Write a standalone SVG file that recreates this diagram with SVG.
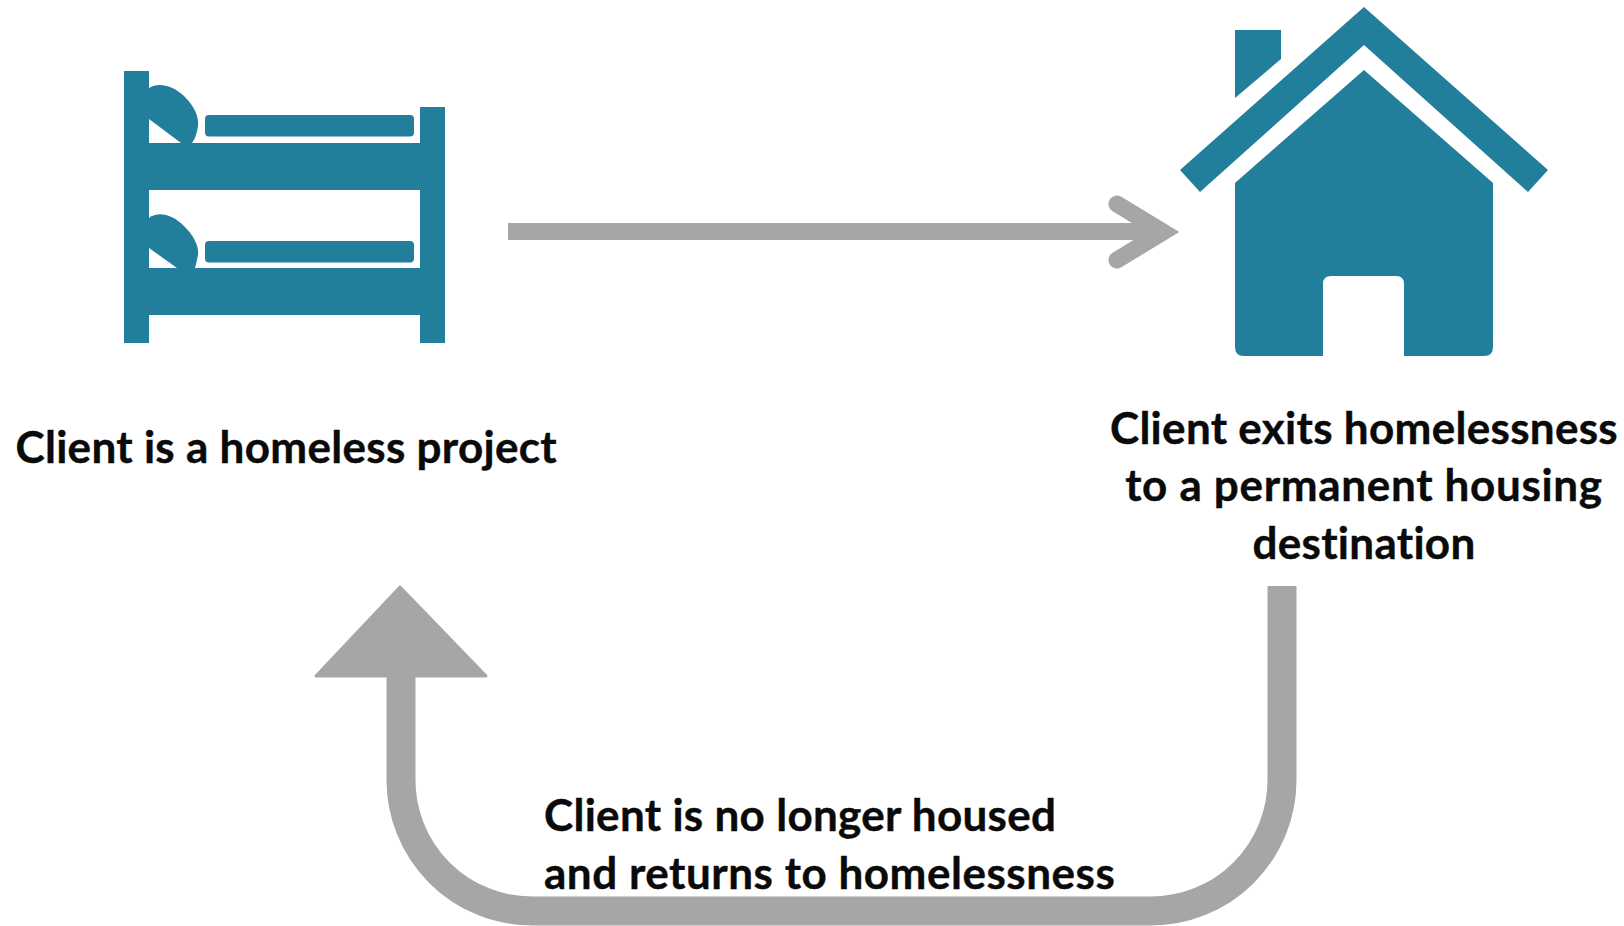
<svg xmlns="http://www.w3.org/2000/svg" width="1624" height="926" viewBox="0 0 1624 926">
<style>
.icon{fill:#227f9b}
.cut{fill:#fff}
.lbl{font-family:"Lato","Liberation Sans",sans-serif;font-weight:700;font-size:44px;letter-spacing:.3px;fill:#0a0a0a;stroke:#0a0a0a;stroke-width:.4px}
.c{text-anchor:middle}
.line{fill:none;stroke:#a6a6a6}
</style>
<rect width="1624" height="926" fill="#fff"/>
<g id="connectors">
<path class="line" d="M508 231.500H1160" stroke-width="17"/>
<path class="line" d="M1117 204L1163 232L1117 260" stroke-width="17" stroke-linecap="round" stroke-linejoin="miter" stroke-miterlimit="6"/>
<path class="line" d="M1282 586V780A131 131 0 0 1 1151 911H532A131 131 0 0 1 401 780V670" stroke-width="29"/>
<path d="M400 587L486 676H316Z" fill="#a6a6a6" stroke="#a6a6a6" stroke-width="3" stroke-linejoin="round"/>
</g>
<g id="bunk-bed">
<path class="icon" d="M124 71H149V143H420V107H445V343H420V315H149V343H124ZM149 190V268H420V190Z"/>
<path class="cut" d="M149 119L181 143H149ZM149 248L177 268H149Z"/>
<path class="icon" d="M149 88C158 82 172 85 184 96C194 106 199 116 198 126C197 133 195 139 192 143H181L149 119Z"/>
<path class="icon" d="M149 218C158 211 172 214 184 226C194 236 199 246 198 255C197 260 196 264 195 268H177L149 248Z"/>
<rect class="icon" x="205" y="115" width="209" height="21.500" rx="4"/>
<rect class="icon" x="205" y="241" width="209" height="21.500" rx="4"/>
</g>
<g id="house">
<path class="icon" d="M1364 7L1548 170L1528 192L1364 45L1200 192L1180 170Z"/>
<path class="icon" d="M1235 30H1281V59L1235 98Z"/>
<path class="icon" fill-rule="evenodd" d="M1364 70L1493 183V347Q1493 356 1484 356H1404V284Q1404 276 1396 276H1331Q1323 276 1323 284V356H1244Q1235 356 1235 347V183Z"/>
</g>
<g id="labels">
<text class="lbl" x="15.500" y="462.500">Client is a homeless project</text>
<text class="lbl c" x="1364" y="443.500">Client exits homelessness</text>
<text class="lbl c" x="1364" y="500.500" style="letter-spacing:.68px">to a permanent housing</text>
<text class="lbl c" x="1364" y="558.500">destination</text>
<text class="lbl" x="544" y="830.500">Client is no longer housed</text>
<text class="lbl" x="544" y="888.500" style="letter-spacing:.53px">and returns to homelessness</text>
</g>
</svg>
